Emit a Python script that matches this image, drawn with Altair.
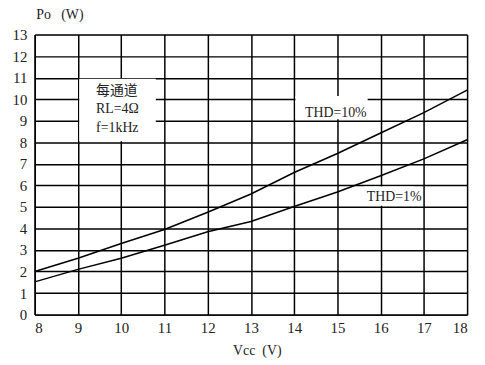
import altair as alt
import pandas as pd

vcc = [8, 9, 10, 11, 12, 13, 14, 15, 16, 17, 18]
po_thd10 = [2.0, 2.62, 3.3, 3.95, 4.75, 5.6, 6.6, 7.48, 8.43, 9.38, 10.42]
po_thd1 = [1.52, 2.1, 2.62, 3.22, 3.85, 4.32, 5.02, 5.69, 6.45, 7.23, 8.12]
x_ticks = list(range(8, 19))
y_ticks = list(range(0, 14))

FONT = "Liberation Serif, Noto Sans CJK SC"
NB = "\u00a0"

rows = []
for x, a, b in zip(vcc, po_thd10, po_thd1):
    rows.append({"vcc": x, "po": a, "series": "THD=10%"})
    rows.append({"vcc": x, "po": b, "series": "THD=1%"})
df = pd.DataFrame(rows)

xscale = alt.Scale(domain=[8, 18], nice=False, zero=False)
yscale = alt.Scale(domain=[0, 13], nice=False)

xaxis = alt.Axis(values=x_ticks, grid=True, gridColor="black", gridWidth=1.5, gridOpacity=1,
                 domainColor="black", domainWidth=1.5, ticks=False, labelPadding=6,
                 labelOverlap=False,
                 labelFont=FONT, labelFontSize=15, labelColor="#222",
                 title="Vcc" + NB * 2 + "(V)", titleFont=FONT, titleFontSize=14,
                 titleFontWeight="normal",
                 titleColor="#222", titleX=200, titleY=36, titleAlign="left", titleBaseline="middle")
yaxis = alt.Axis(values=y_ticks, grid=True, gridColor="black", gridWidth=1.5, gridOpacity=1,
                 domainColor="black", domainWidth=1.5, ticks=False, labelPadding=8,
                 labelOverlap=False,
                 labelFont=FONT, labelFontSize=15, labelColor="#222",
                 title="Po" + NB * 3 + "(W)", titleFont=FONT, titleFontSize=14,
                 titleFontWeight="normal",
                 titleColor="#222", titleAngle=0, titleX=1, titleY=-20, titleAlign="left",
                 titleBaseline="middle")

lines = alt.Chart(df).mark_line(color="black", strokeWidth=1.5).encode(
    x=alt.X("vcc:Q", scale=xscale, axis=xaxis),
    y=alt.Y("po:Q", scale=yscale, axis=yaxis),
    detail="series:N",
)

boxes = pd.DataFrame({
    "x1": [9.03, 14.03, 15.62],
    "x2": [10.8, 15.7, 16.76],
    "y1": [8.05, 9.07, 5.05],
    "y2": [10.95, 10.15, 5.95],
})
rects = alt.Chart(boxes).mark_rect(color="white").encode(
    x=alt.X("x1:Q", scale=xscale, axis=xaxis), x2="x2:Q",
    y=alt.Y("y1:Q", scale=yscale, axis=yaxis), y2="y2:Q",
)

labels = pd.DataFrame({
    "x": [9.42, 9.42, 9.42, 14.25, 15.68],
    "y": [10.37, 9.54, 8.67, 9.38, 5.45],
    "t": ["每通道", "RL=4Ω", "f=1kHz", "THD=10%", "THD=1%"],
})
texts = alt.Chart(labels).mark_text(font=FONT, fontSize=14, align="left", baseline="middle",
                                     color="#222").encode(
    x=alt.X("x:Q", scale=xscale, axis=xaxis), y=alt.Y("y:Q", scale=yscale, axis=yaxis),
    text="t:N"
)

chart = alt.layer(rects, lines, texts).properties(
    width=437, height=283,
    autosize=alt.AutoSizeParams(type="none"),
    padding={"left": 27, "top": 25, "right": 10, "bottom": 47},
).configure_view(stroke=None).configure(background="white")

chart.save("out.html", embed_options={"renderer": "svg", "actions": False})
